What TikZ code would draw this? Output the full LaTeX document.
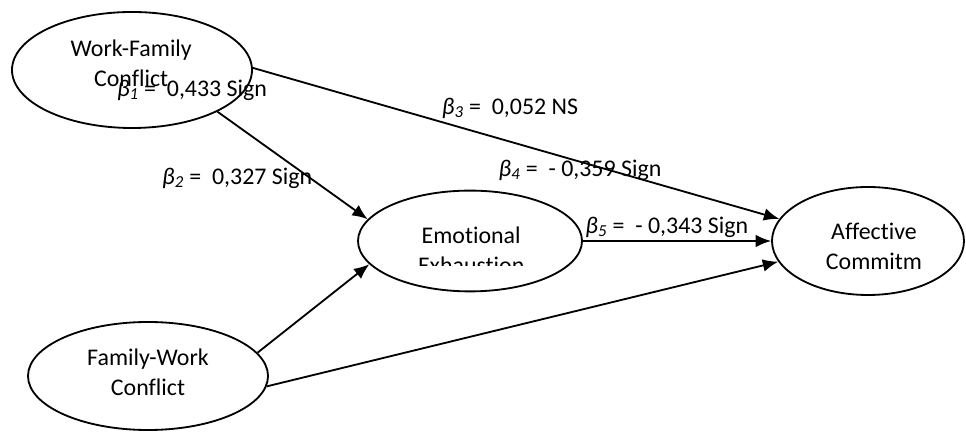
\documentclass[tikz,border=0pt]{standalone}
\usepackage{fontspec}
\setmainfont{Carlito}[Ligatures=NoCommon]
\usepackage{tikz}
\usetikzlibrary{positioning,shapes.geometric,arrows.meta}

\newcommand{\coef}[1]{\textit{β\textsubscript{#1}}}

\begin{document}
\begin{tikzpicture}[auto,>={Latex[length=11pt,width=9pt]},line width=1.3pt]
  \tikzstyle{latent}=[draw=black,ellipse,inner sep=0pt]
  \tikzstyle{txt}=[align=center,font=\fontsize{17}{21.5}\selectfont]
  \tikzstyle{coeff}=[font=\fontsize{17}{21.5}\selectfont,inner sep=0pt]

  \useasboundingbox (0,0) rectangle (24.15,10.8);

  \node[latent,minimum width=6cm,minimum height=2.9cm] (wfc) at (3.3,9.05) {};
  \node[latent,minimum width=6cm,minimum height=2.7cm] (fwc) at (3.7,1.4) {};
  \node[latent,minimum width=5.6cm,minimum height=2.52cm] (ee) at (11.75,4.775) {};
  \node[latent,minimum width=4.8cm,minimum height=2.7cm] (ac) at (21.7,4.775) {};

  \node[txt] (wfctext) at (3.28,9.225) {Work-Family\\Conflict};
  \node[txt] (fwctext) at (3.7,1.5) {Family-Work\\Conflict};
  \node[txt] (actext) at (21.85,4.65) {Affective\\Commitm};
  \begin{scope}
    \clip (9,4.15) rectangle (14.5,6.5);
    \node[txt] (eetext) at (11.78,4.55) {Emotional\\Exhaustion};
  \end{scope}

  \draw[->] (wfc.1) -- (ac.166);
  \draw[->] (wfc.-26) -- (ee.168);
  \draw[->] (fwc.12) -- (ee.193);
  \draw[->] (fwc.-5) -- (ac.193);
  \draw[->] (ee.east) -- (ac.west);

  \node[coeff] (b1) at (4.8,8.55) {\coef{1} = \ 0,433 Sign};
  \node[coeff] (b2) at (5.93,6.35) {\coef{2} = \ 0,327 Sign};
  \node[coeff] (b3) at (12.75,8.1) {\coef{3} = \ 0,052 NS};
  \node[coeff] (b4) at (14.5,6.55) {\coef{4} = \ - 0,359 Sign};
  \node[coeff] (b5) at (16.67,5.125) {\coef{5} = \ - 0,343 Sign};
\end{tikzpicture}
\end{document}
